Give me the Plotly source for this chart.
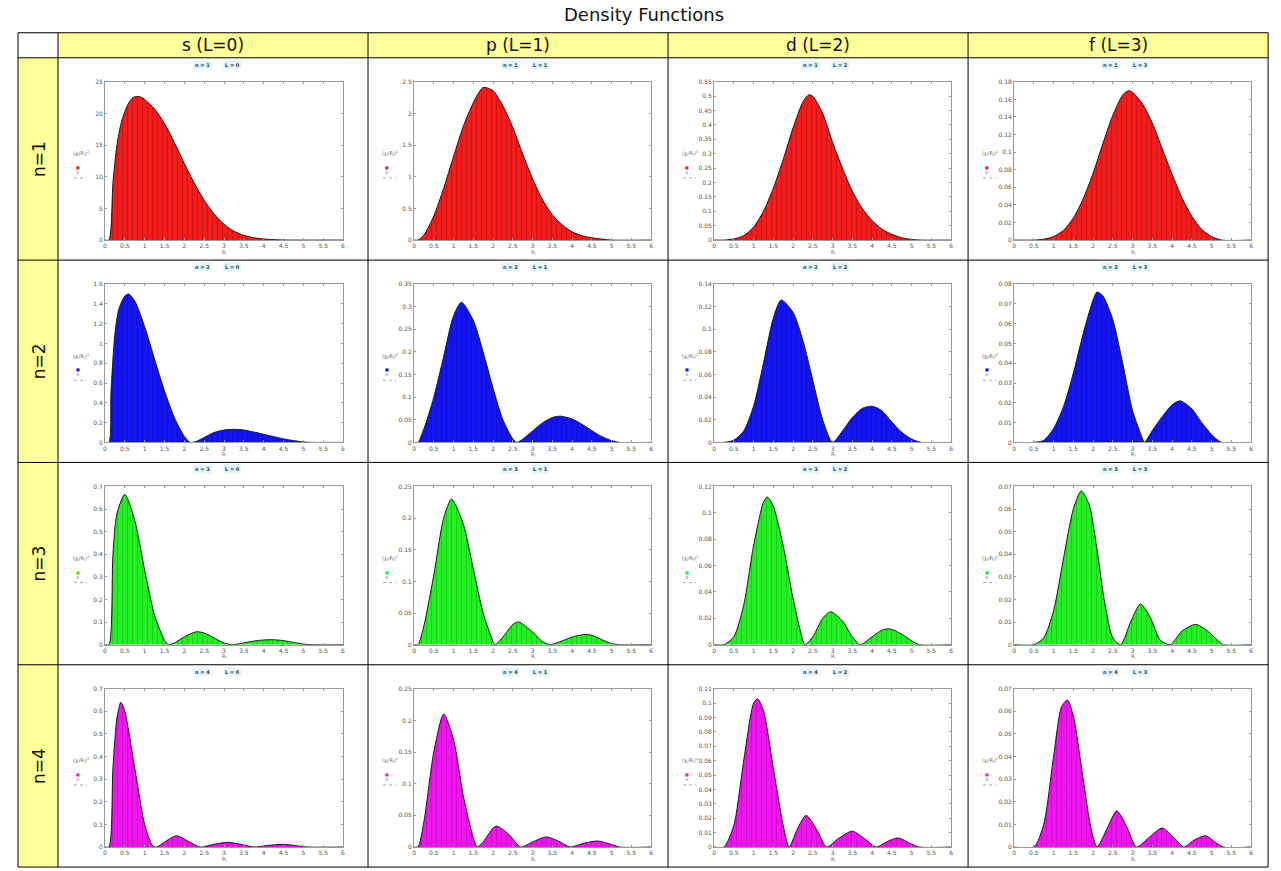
import plotly.graph_objects as go

W, H = 1281, 871

# ---------------- data ----------------
col_labels = ["s (L=0)", "p (L=1)", "d (L=2)", "f (L=3)"]
row_labels = ["n=1", "n=2", "n=3", "n=4"]
x_tick_vals = [0, 0.5, 1, 1.5, 2, 2.5, 3, 3.5, 4, 4.5, 5, 5.5, 6]

# n = 1
x_1s = [0, 0.1, 0.2, 0.3, 0.4, 0.5, 0.6, 0.7, 0.8, 0.9, 1.0, 1.25, 1.5, 1.75, 2.0, 2.25, 2.5, 2.75, 3.0, 3.25, 3.5, 3.75, 4.0, 4.25, 4.5, 4.75, 6]
y_1s = [0, 0, 9, 15, 18.3, 20.3, 21.7, 22.5, 22.7, 22.6, 22.2, 20.7, 18.4, 15.4, 12.1, 9.0, 6.3, 4.1, 2.5, 1.4, 0.75, 0.37, 0.17, 0.07, 0.02, 0, 0]
x_1p = [0, 0.1, 0.25, 0.5, 0.75, 1.0, 1.25, 1.5, 1.75, 2.0, 2.25, 2.5, 2.75, 3.0, 3.25, 3.5, 3.75, 4.0, 4.25, 4.5, 4.75, 5.0, 6]
y_1p = [0, 0, 0.08, 0.38, 0.82, 1.32, 1.8, 2.17, 2.41, 2.36, 2.12, 1.78, 1.36, 0.97, 0.64, 0.4, 0.24, 0.13, 0.07, 0.035, 0.015, 0, 0]
x_1d = [0, 0.25, 0.5, 0.75, 1.0, 1.25, 1.5, 1.75, 2.0, 2.25, 2.4, 2.5, 2.75, 3.0, 3.25, 3.5, 3.75, 4.0, 4.25, 4.5, 4.75, 5.0, 5.25, 6]
y_1d = [0, 0, 0.004, 0.015, 0.045, 0.1, 0.18, 0.28, 0.39, 0.48, 0.505, 0.5, 0.44, 0.34, 0.25, 0.17, 0.11, 0.068, 0.038, 0.02, 0.008, 0.002, 0, 0]
x_1f = [0, 0.5, 0.75, 1.0, 1.25, 1.5, 1.75, 2.0, 2.25, 2.5, 2.75, 2.9, 3.0, 3.25, 3.5, 3.75, 4.0, 4.25, 4.5, 4.75, 5.0, 5.25, 6]
y_1f = [0, 0, 0.001, 0.004, 0.011, 0.025, 0.047, 0.076, 0.11, 0.142, 0.165, 0.17, 0.168, 0.155, 0.133, 0.104, 0.075, 0.048, 0.027, 0.012, 0.004, 0, 0]

# n = 2
x_2s = [0, 0.1, 0.15, 0.25, 0.35, 0.5, 0.6, 0.75, 1.0, 1.25, 1.5, 1.75, 2.0, 2.15, 2.3, 2.5, 2.75, 3.0, 3.25, 3.5, 3.75, 4.0, 4.25, 4.5, 4.75, 5.0, 5.25, 6]
y_2s = [0, 0, 0.5, 1.1, 1.35, 1.48, 1.5, 1.43, 1.17, 0.84, 0.52, 0.25, 0.06, 0.0, 0.01, 0.05, 0.1, 0.125, 0.132, 0.125, 0.105, 0.082, 0.058, 0.036, 0.018, 0.005, 0, 0]
x_2p = [0, 0.1, 0.25, 0.5, 0.75, 1.0, 1.2, 1.5, 1.75, 2.0, 2.25, 2.5, 2.6, 2.75, 3.0, 3.25, 3.5, 3.7, 4.0, 4.25, 4.5, 4.75, 5.0, 5.2, 6]
y_2p = [0, 0, 0.03, 0.1, 0.19, 0.28, 0.31, 0.27, 0.2, 0.12, 0.05, 0.008, 0, 0.007, 0.025, 0.043, 0.055, 0.058, 0.052, 0.04, 0.026, 0.013, 0.004, 0, 0]
x_2d = [0, 0.25, 0.5, 0.75, 1.0, 1.25, 1.5, 1.7, 2.0, 2.25, 2.5, 2.75, 3.0, 3.25, 3.5, 3.75, 4.0, 4.25, 4.5, 4.75, 5.0, 5.25, 6]
y_2d = [0, 0, 0.002, 0.01, 0.032, 0.07, 0.11, 0.126, 0.115, 0.09, 0.055, 0.02, 0, 0.01, 0.022, 0.03, 0.032, 0.028, 0.018, 0.009, 0.003, 0, 0]
x_2f = [0, 0.5, 0.75, 1.0, 1.25, 1.5, 1.75, 2.0, 2.1, 2.25, 2.5, 2.75, 3.0, 3.25, 3.3, 3.5, 3.75, 4.0, 4.2, 4.5, 4.75, 5.0, 5.25, 6]
y_2f = [0, 0, 0.001, 0.007, 0.018, 0.035, 0.055, 0.072, 0.076, 0.074, 0.062, 0.04, 0.016, 0.002, 0, 0.006, 0.013, 0.019, 0.021, 0.017, 0.01, 0.004, 0, 0]

# n = 3
x_3s = [0, 0.1, 0.2, 0.3, 0.5, 0.75, 1.0, 1.25, 1.5, 1.6, 1.75, 2.0, 2.3, 2.5, 2.75, 3.0, 3.2, 3.5, 3.75, 4.0, 4.25, 4.5, 4.75, 5.0, 5.25, 6]
y_3s = [0, 0, 0.4, 0.58, 0.665, 0.55, 0.33, 0.13, 0.02, 0, 0.008, 0.035, 0.057, 0.052, 0.03, 0.008, 0, 0.008, 0.016, 0.021, 0.022, 0.018, 0.01, 0.003, 0, 0]
x_3p = [0, 0.1, 0.25, 0.5, 0.75, 0.95, 1.25, 1.5, 1.75, 2.0, 2.05, 2.25, 2.5, 2.65, 3.0, 3.25, 3.45, 3.75, 4.0, 4.3, 4.5, 4.75, 5.0, 5.2, 6]
y_3p = [0, 0, 0.03, 0.11, 0.2, 0.23, 0.19, 0.12, 0.05, 0.005, 0, 0.012, 0.032, 0.036, 0.02, 0.005, 0, 0.006, 0.012, 0.016, 0.015, 0.008, 0.002, 0, 0]
x_3d = [0, 0.25, 0.5, 0.75, 1.0, 1.25, 1.35, 1.5, 1.75, 2.0, 2.25, 2.3, 2.5, 2.75, 2.95, 3.25, 3.5, 3.7, 4.0, 4.25, 4.45, 4.75, 5.0, 5.2, 6]
y_3d = [0, 0, 0.006, 0.03, 0.075, 0.108, 0.112, 0.105, 0.075, 0.035, 0.003, 0, 0.006, 0.02, 0.025, 0.018, 0.006, 0, 0.006, 0.011, 0.012, 0.008, 0.003, 0, 0]
x_3f = [0, 0.5, 0.75, 1.0, 1.25, 1.5, 1.7, 1.9, 2.1, 2.3, 2.5, 2.7, 2.95, 3.2, 3.45, 3.7, 3.95, 4.25, 4.6, 4.9, 5.15, 5.3, 6]
y_3f = [0, 0, 0.003, 0.015, 0.038, 0.06, 0.068, 0.062, 0.042, 0.018, 0.003, 0, 0.01, 0.018, 0.012, 0.002, 0, 0.006, 0.009, 0.006, 0.002, 0, 0]

# n = 4
x_4s = [0, 0.1, 0.2, 0.3, 0.4, 0.5, 0.75, 1.0, 1.2, 1.3, 1.5, 1.8, 2.1, 2.4, 2.75, 3.1, 3.45, 3.75, 4.1, 4.5, 4.85, 5.1, 6]
y_4s = [0, 0, 0.35, 0.57, 0.64, 0.6, 0.35, 0.1, 0.005, 0, 0.022, 0.05, 0.025, 0, 0.012, 0.021, 0.011, 0, 0.007, 0.012, 0.005, 0, 0]
x_4p = [0, 0.1, 0.25, 0.5, 0.75, 1.0, 1.25, 1.5, 1.6, 1.75, 2.0, 2.1, 2.4, 2.7, 3.0, 3.35, 3.7, 3.95, 4.3, 4.65, 5.0, 5.2, 6]
y_4p = [0, 0, 0.04, 0.15, 0.21, 0.17, 0.08, 0.015, 0, 0.008, 0.03, 0.033, 0.02, 0, 0.008, 0.016, 0.008, 0, 0.006, 0.0095, 0.004, 0, 0]
x_4d = [0, 0.25, 0.5, 0.75, 1.0, 1.1, 1.25, 1.5, 1.75, 1.9, 2.1, 2.33, 2.6, 2.85, 3.15, 3.5, 3.85, 4.1, 4.4, 4.66, 5.0, 5.2, 6]
y_4d = [0, 0, 0.015, 0.06, 0.1, 0.103, 0.095, 0.055, 0.015, 0, 0.012, 0.022, 0.012, 0, 0.006, 0.011, 0.005, 0, 0.004, 0.0063, 0.002, 0, 0]
x_4f = [0, 0.5, 0.75, 1.0, 1.2, 1.35, 1.5, 1.75, 1.95, 2.1, 2.35, 2.6, 2.85, 3.1, 3.4, 3.75, 4.05, 4.3, 4.55, 4.85, 5.1, 5.3, 6]
y_4f = [0, 0, 0.01, 0.04, 0.062, 0.065, 0.058, 0.03, 0.008, 0, 0.008, 0.016, 0.009, 0, 0.004, 0.0084, 0.004, 0, 0.003, 0.005, 0.002, 0, 0]

series_x = [[x_1s, x_1p, x_1d, x_1f], [x_2s, x_2p, x_2d, x_2f],
            [x_3s, x_3p, x_3d, x_3f], [x_4s, x_4p, x_4d, x_4f]]
series_y = [[y_1s, y_1p, y_1d, y_1f], [y_2s, y_2p, y_2d, y_2f],
            [y_3s, y_3p, y_3d, y_3f], [y_4s, y_4p, y_4d, y_4f]]

# y-axis ranges and tick steps per panel
y_max = [[25, 2.5, 0.55, 0.18], [1.6, 0.35, 0.14, 0.08],
         [0.7, 0.25, 0.12, 0.07], [0.7, 0.25, 0.11, 0.07]]
y_step = [[5, 0.5, 0.05, 0.02], [0.2, 0.05, 0.02, 0.01],
          [0.1, 0.05, 0.02, 0.01], [0.1, 0.05, 0.01, 0.01]]

row_fill = ["#F21C1C", "#1414F2", "#22F022", "#F014F0"]
row_pattern = ["#7A0000", "#000070", "#0A700A", "#700070"]

# ---------------- layout geometry (pixels, as seen in the target) ----------------
tbl_left, tbl_right = 18, 1268
hdr_top, hdr_bot = 33, 58
col_edges = [58, 368, 668, 968, 1268]
row_edges = [58, 260, 462, 664, 866]
plot_x = [(105, 343), (414, 651), (714, 951), (1014, 1251)]
plot_dy = (24, 182)

# small correction for the page capture (observed scale/offset of the rendered page)
SX, OX = 0.9968, 2.0
SY, OY = 0.9904, 4.3


def px(x):
    return ((x - OX) / SX) / W


def py(y):
    return 1 - ((y - OY) / SY) / H


def note(x, y, text, size, color="#111", **kw):
    d = dict(x=px(x), y=py(y), xref="paper", yref="paper", text=text, showarrow=False,
             xanchor="center", yanchor="middle",
             font=dict(family="DejaVu Sans", size=size, color=color))
    d.update(kw)
    return d


fig = go.Figure()
shapes = []
annotations = []

# table backgrounds
shapes.append(dict(type="rect", xref="paper", yref="paper", x0=px(col_edges[0]), x1=px(tbl_right),
                   y0=py(hdr_bot), y1=py(hdr_top), fillcolor="#FFFF99", line=dict(width=0), layer="below"))
shapes.append(dict(type="rect", xref="paper", yref="paper", x0=px(tbl_left), x1=px(col_edges[0]),
                   y0=py(row_edges[-1]), y1=py(row_edges[0]), fillcolor="#FFFF99", line=dict(width=0), layer="below"))
# table grid lines
for xe in [tbl_left] + col_edges:
    shapes.append(dict(type="line", xref="paper", yref="paper", x0=px(xe), x1=px(xe),
                       y0=py(row_edges[-1]), y1=py(hdr_top), line=dict(color="black", width=1)))
for ye in [hdr_top] + row_edges:
    shapes.append(dict(type="line", xref="paper", yref="paper", x0=px(tbl_left), x1=px(tbl_right),
                       y0=py(ye), y1=py(ye), line=dict(color="black", width=1)))

# header texts
for c, lab in enumerate(col_labels):
    annotations.append(note((col_edges[c] + col_edges[c + 1]) / 2, (hdr_top + hdr_bot) / 2, lab, 17))
for r, lab in enumerate(row_labels):
    annotations.append(note((tbl_left + col_edges[0]) / 2 + 1, (row_edges[r] + row_edges[r + 1]) / 2,
                            lab, 17, textangle=-90))

annotations.append(note(644, 15, "Density Functions", 18))

layout_axes = {}
tick_font = dict(family="DejaVu Sans", size=6, color="#555")
for r in range(4):
    top = row_edges[r] + plot_dy[0]
    bot = row_edges[r] + plot_dy[1]
    mid = (top + bot) / 2
    for c in range(4):
        idx = r * 4 + c + 1
        xa = "x" if idx == 1 else f"x{idx}"
        ya = "y" if idx == 1 else f"y{idx}"
        xkey = "xaxis" if idx == 1 else f"xaxis{idx}"
        ykey = "yaxis" if idx == 1 else f"yaxis{idx}"
        x0, x1 = plot_x[c]
        fig.add_trace(go.Scatter(
            x=series_x[r][c], y=series_y[r][c], xaxis=xa, yaxis=ya, mode="lines",
            line=dict(color="#1a1a1a", width=1, shape="spline", smoothing=0.7),
            fill="tozeroy", fillcolor=row_fill[r],
            fillpattern=dict(shape="|", fgcolor=row_pattern[r], bgcolor=row_fill[r], size=5, solidity=0.12),
            showlegend=False, hoverinfo="skip"))
        ticks_y = []
        v = 0.0
        while v <= y_max[r][c] + 1e-9:
            ticks_y.append(round(v, 4))
            v += y_step[r][c]
        layout_axes[xkey] = dict(domain=[px(x0), px(x1)], anchor=ya, range=[0, 6],
                                 tickvals=x_tick_vals, ticks="inside", ticklen=2, tickcolor="#999",
                                 showline=True, linecolor="#999", linewidth=1, mirror="ticks",
                                 showgrid=False, zeroline=False, tickfont=tick_font, fixedrange=True)
        layout_axes[ykey] = dict(domain=[py(bot), py(top)], anchor=xa, range=[0, y_max[r][c]],
                                 tickvals=ticks_y, ticks="inside", ticklen=2, tickcolor="#999",
                                 showline=True, linecolor="#999", linewidth=1, mirror="ticks",
                                 showgrid=False, zeroline=False, tickfont=tick_font, fixedrange=True)
        # panel title boxes
        cx = (x0 + x1) / 2
        annotations.append(note(cx - 22, row_edges[r] + 7, f"<b>n = {r + 1}</b>", 5, "#334",
                                bgcolor="#E4F6FA", borderpad=1))
        annotations.append(note(cx + 8, row_edges[r] + 7, f"<b>L = {c}</b>", 5, "#334",
                                bgcolor="#E4F6FA", borderpad=1))
        # axis labels
        annotations.append(note(cx, bot + 12, "R<sub>l</sub>", 5, "#666"))
        annotations.append(note(x0 - 24, mid - 7, "(χ<sub>l</sub>/R<sub>l</sub>)<sup>2</sup>", 5, "#666"))
        annotations.append(note(x0 - 27, mid + 9, f"<span style='color:{row_fill[r]}'>■</span><br>0", 4, "#666"))
        shapes.append(dict(type="line", xref="paper", yref="paper", x0=px(x0 - 31), x1=px(x0 - 18),
                           y0=py(mid + 17), y1=py(mid + 17), line=dict(color="#aaa", width=1, dash="dot")))

fig.update_layout(
    width=W, height=H, autosize=False,
    margin=dict(l=0, r=0, t=0, b=0, pad=0),
    paper_bgcolor="white", plot_bgcolor="white",
    shapes=shapes, annotations=annotations,
    **layout_axes,
)

fig.write_html("out.html", config={"displayModeBar": False},
               post_script="document.documentElement.style.margin='0px';document.documentElement.style.padding='0px';"
                           "document.documentElement.style.overflow='hidden';"
                           "document.body.style.margin='0px';document.body.style.padding='0px';"
                           "document.body.style.overflow='hidden';")
